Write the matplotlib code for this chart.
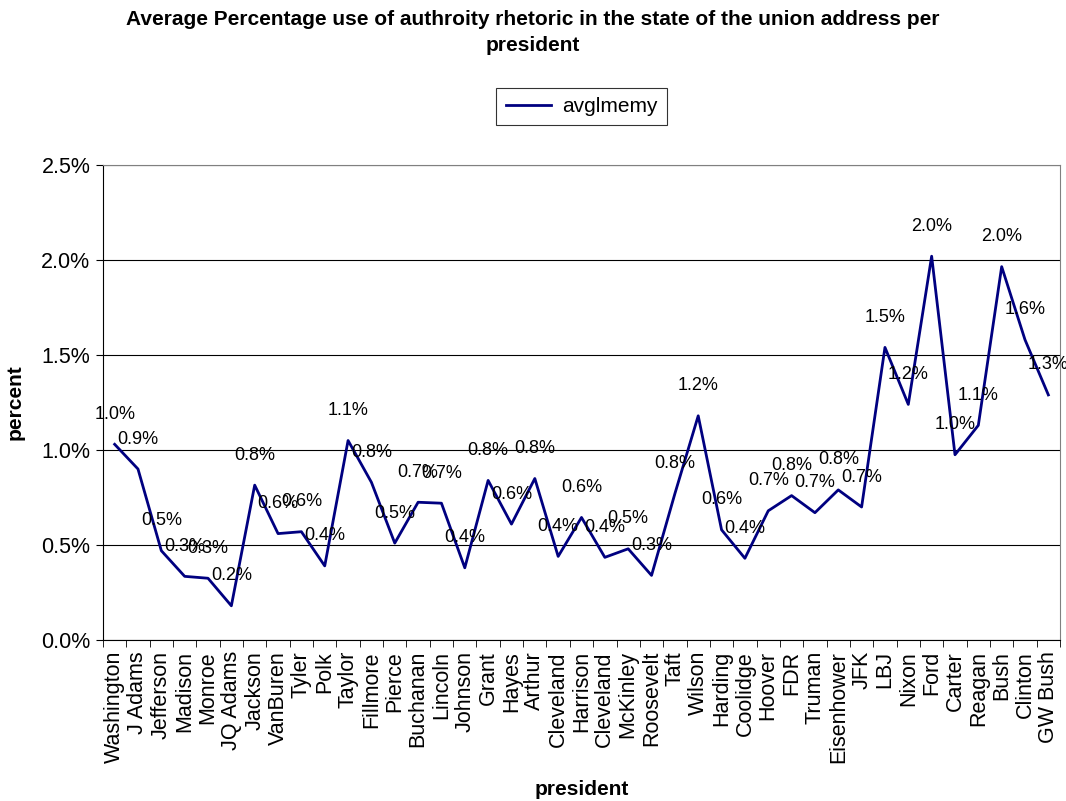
import matplotlib
matplotlib.use("Agg")
import matplotlib.pyplot as plt
import numpy as np
from matplotlib.ticker import FixedLocator, PercentFormatter

plt.rcParams['font.family'] = ['Liberation Sans', 'DejaVu Sans']

presidents = ["Washington", "J Adams", "Jefferson", "Madison", "Monroe", "JQ Adams",
              "Jackson", "VanBuren", "Tyler", "Polk", "Taylor", "Fillmore", "Pierce",
              "Buchanan", "Lincoln", "Johnson", "Grant", "Hayes", "Arthur", "Cleveland",
              "Harrison", "Cleveland", "McKinley", "Roosevelt", "Taft", "Wilson",
              "Harding", "Coolidge", "Hoover", "FDR", "Truman", "Eisenhower", "JFK",
              "LBJ", "Nixon", "Ford", "Carter", "Reagan", "Bush", "Clinton", "GW Bush"]
avglmemy = [1.03, 0.90, 0.47, 0.335, 0.325, 0.18, 0.815, 0.56, 0.57, 0.39,
            1.05, 0.83, 0.51, 0.725, 0.72, 0.38, 0.84, 0.61, 0.85, 0.44,
            0.645, 0.435, 0.48, 0.34, 0.77, 1.18, 0.58, 0.43, 0.68, 0.76,
            0.67, 0.79, 0.70, 1.54, 1.24, 2.02, 0.975, 1.13, 1.965, 1.58, 1.29]

fig = plt.figure(figsize=(10.66, 8.01), dpi=100)
ax = fig.add_axes([0.0966, 0.201, 0.8978, 0.593])

x = np.arange(len(presidents))
ax.plot(x, avglmemy, color='#000080', lw=2, label='avglmemy', zorder=3)

for xi, v in zip(x, avglmemy):
    ax.annotate(f"{v:.1f}%", (xi, v), xytext=(0, 30), textcoords='offset pixels',
                ha='center', va='center', fontsize=13, color='black', zorder=4)

ax.set_xlim(-0.5, len(presidents) - 0.5)
ax.set_ylim(0, 2.5)
ax.set_yticks(np.arange(0, 2.51, 0.5))
ax.yaxis.set_major_formatter(PercentFormatter(decimals=1))
ax.yaxis.grid(True, color='black', lw=0.8)
ax.set_axisbelow(True)

ax.set_xticks(x)
ax.set_xticklabels(presidents, rotation=90, fontsize=15.5)
ax.xaxis.set_minor_locator(FixedLocator(np.arange(-0.5, len(presidents), 1.0)))
ax.tick_params(axis='x', which='major', length=0, pad=8)
ax.tick_params(axis='x', which='minor', length=5, direction='out', color='black')
ax.tick_params(axis='y', labelsize=15.5, length=5, direction='out', pad=4)

for s in ['top', 'right']:
    ax.spines[s].set_color('#808080')
ax.spines['left'].set_color('black')
ax.spines['bottom'].set_color('black')

ax.set_xlabel('president', fontsize=15, fontweight='bold', labelpad=12)
ax.set_ylabel('percent', fontsize=15, fontweight='bold', labelpad=12)

fig.text(0.5, 0.988, "Average Percentage use of authroity rhetoric in the state of the union address per\npresident",
         ha='center', va='top', fontsize=15, fontweight='bold', linespacing=1.5)

leg = fig.legend(loc='center', bbox_to_anchor=(0.5455, 0.867), fontsize=15, frameon=True,
                 fancybox=False, edgecolor='black', handlelength=2.2, borderpad=0.45,
                 handletextpad=0.5)
leg.get_frame().set_linewidth(0.8)

fig.savefig('out.png', dpi=100)
